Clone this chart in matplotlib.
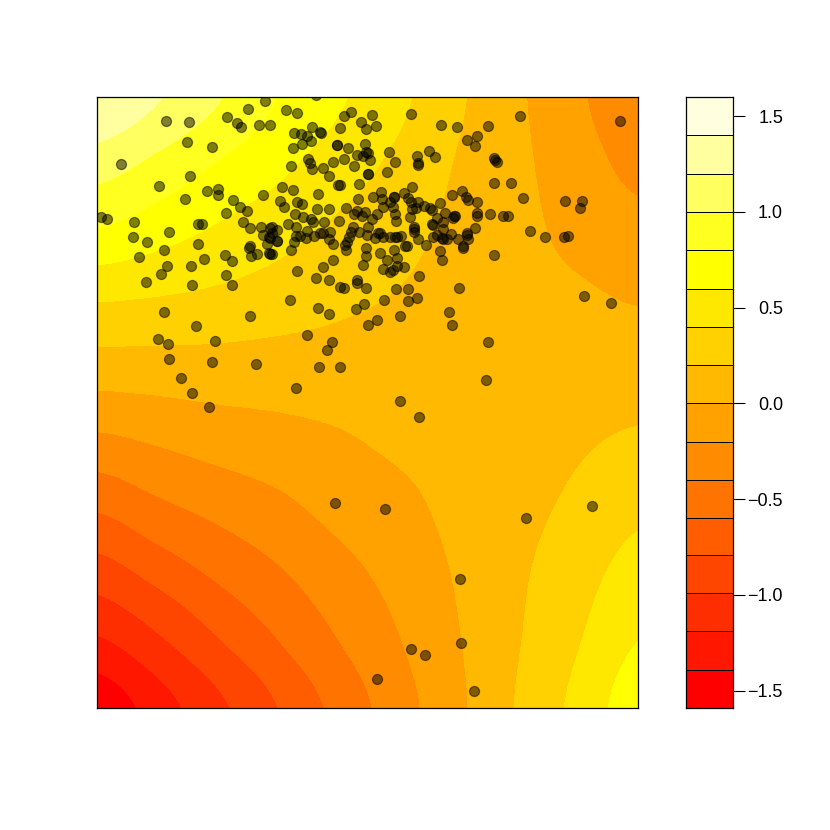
import numpy as np
import matplotlib
matplotlib.use("Agg")
import matplotlib.pyplot as plt
from matplotlib.colors import ListedColormap, BoundaryNorm

plt.rcParams['font.family'] = ['Liberation Sans', 'DejaVu Sans']

# Colour scale
levels = [-1.59, -1.39, -1.19, -0.99, -0.79, -0.60, -0.40, -0.20, 0.0,
          0.20, 0.40, 0.60, 0.80, 1.00, 1.20, 1.40, 1.60]
palette = ['#FF0000', '#FF1700', '#FF2E00', '#FF4600', '#FF5D00', '#FF7400',
           '#FF8B00', '#FFA200', '#FFB900', '#FFD100', '#FFE800', '#FFFF00',
           '#FFFF20', '#FFFF60', '#FFFF9F', '#FFFFDF']
bar_ticks = [-1.5, -1.0, -0.5, 0.0, 0.5, 1.0, 1.5]
bar_labels = ['\u22121.5', '\u22121.0', '\u22120.5', '0.0', '0.5', '1.0', '1.5']

# Surface at a coarse grid
grid_x = [97, 157, 217, 277, 337, 397, 457, 517, 577, 638]
grid_y = [97, 165, 233, 301, 369, 437, 505, 573, 641, 708]
surface = [
    [1.40, 1.22, 1.02, 0.80, 0.63, 0.45, 0.23, 0.03, -0.17, -0.36],
    [1.09, 0.95, 0.79, 0.65, 0.50, 0.355, 0.185, 0.04, -0.11, -0.26],
    [0.78, 0.68, 0.57, 0.47, 0.36, 0.27, 0.15, 0.05, -0.05, -0.13],
    [0.41, 0.385, 0.35, 0.30, 0.24, 0.185, 0.11, 0.06, 0.03, -0.01],
    [0.105, 0.11, 0.115, 0.11, 0.11, 0.10, 0.09, 0.08, 0.09, 0.10],
    [-0.22, -0.16, -0.10, -0.06, -0.015, 0.04, 0.08, 0.11, 0.17, 0.22],
    [-0.56, -0.43, -0.33, -0.24, -0.13, -0.05, 0.055, 0.14, 0.24, 0.35],
    [-0.88, -0.72, -0.56, -0.42, -0.27, -0.13, 0.02, 0.17, 0.32, 0.48],
    [-1.21, -1.02, -0.80, -0.60, -0.40, -0.21, -0.01, 0.19, 0.39, 0.60],
    [-1.54, -1.29, -1.04, -0.79, -0.54, -0.29, -0.04, 0.22, 0.46, 0.72],
]

# Sample locations
pts_x = [265, 248, 166, 189, 227, 237, 241, 259, 270, 187, 212, 121, 190, 159, 207, 218, 218, 185, 263, 233, 240,
         247, 226, 101, 107, 134, 198, 202, 133, 169, 147, 198, 243, 250, 261, 270, 263, 269, 272, 277, 267, 250, 249,
         251, 257, 270, 164, 139, 225, 232, 204, 167, 191, 161, 226, 146, 192, 232,
         286, 297, 294, 301, 307, 312, 320, 321, 311, 302, 293, 344, 351, 340, 361, 372, 366, 376, 411, 441, 337, 337,
         348, 365, 357, 366, 368, 363, 370, 389, 395, 417, 418, 418, 429, 435, 308, 310, 312, 333, 344, 354, 323, 329,
         291, 368, 368, 387, 282, 293, 338, 340, 359, 318, 412, 404, 381, 394, 394, 373, 316,
         280, 284, 297, 302, 317, 329, 295, 303, 311, 313, 324, 339, 346, 358, 382, 383, 390, 357, 354, 365, 362, 377,
         372, 368, 288, 296, 277, 272, 277, 270, 269, 272, 296, 300, 294, 291, 306, 307, 314, 320, 323, 330, 329, 333,
         353, 351, 349, 347, 345, 346, 359, 367, 375, 378, 383, 390, 366, 366, 380, 387, 363, 383, 390, 333, 323, 297,
         316, 329, 357,
         462, 452, 466, 468, 477, 408, 411, 418, 393, 412, 416, 424, 430, 432, 440, 437, 445, 454, 453, 477, 477, 490,
         395, 396, 410, 432, 433, 443, 443, 475, 414, 414, 414, 380, 395, 397, 401, 418, 426, 433, 437, 442, 443, 447,
         451, 458, 467, 467, 468, 463, 463, 440, 442, 405, 407, 394, 397, 397, 404, 393, 494, 419,
         457, 488, 477, 467, 475, 520, 620, 494, 495, 497, 494, 511, 523, 565, 582, 580, 455, 503, 508, 530, 545, 564,
         568, 459, 584, 611, 449,
         340, 344, 357, 366, 396, 408, 408, 417, 290, 318, 329, 364, 356, 384, 400, 377, 368, 452, 488, 486, 307, 332,
         327, 319, 340, 296, 400, 419,
         164, 196, 250, 158, 168, 215, 169, 212, 256, 181, 192, 209,
         335, 385, 377, 526, 592, 460, 411, 425, 461, 474]
pts_y = [101, 109, 121, 122, 117, 123, 127, 125, 125, 142, 147, 164, 176, 186, 191, 189, 195, 199, 195, 200, 207,
         211, 213, 217, 219, 222, 224, 224, 237, 232, 242, 244, 222, 228, 227, 228, 235, 237, 233, 241, 244, 246, 248,
         256, 254, 254, 250, 257, 255, 261, 259, 266, 266, 274, 275, 282, 285, 285,
         110, 113, 133, 134, 136, 127, 132, 133, 141, 144, 148, 116, 112, 128, 122, 115, 129, 126, 114, 125, 145, 145,
         148, 144, 155, 152, 153, 156, 160, 152, 162, 156, 163, 165, 151, 157, 159, 163, 169, 162, 159, 166, 168, 176,
         166, 174, 174, 172, 187, 190, 185, 185, 184, 194, 187, 193, 192, 197, 197, 197, 95,
         201, 207, 202, 204, 209, 209, 214, 217, 219, 222, 222, 221, 208, 199, 199, 207, 202, 211, 214, 212, 216, 214,
         219, 227, 224, 227, 230, 227, 241, 238, 253, 254, 236, 236, 242, 250, 238, 231, 236, 233, 233, 232, 239, 244,
         227, 232, 237, 242, 245, 250, 232, 235, 238, 233, 237, 237, 248, 256, 253, 260, 265, 269, 272, 260, 267, 271,
         278, 280, 280,
         191, 195, 197, 200, 202, 198, 202, 202, 207, 209, 208, 206, 208, 210, 203, 218, 213, 216, 218, 213, 216, 214,
         214, 221, 217, 224, 225, 222, 229, 228, 227, 229, 232, 233, 237, 237, 236, 239, 245, 237, 235, 238, 239, 239,
         234, 239, 233, 235, 239, 246, 248, 251, 260, 246, 246, 250, 258, 266, 267, 270, 255, 276,
         127, 126, 136, 140, 146, 116, 121, 158, 160, 162, 183, 183, 198, 201, 201, 208, 216, 216, 216, 231, 237, 237,
         236, 288, 296, 303, 312,
         287, 288, 283, 288, 289, 289, 301, 298, 300, 308, 314, 304, 309, 300, 316, 320, 325, 325, 342, 380, 335, 342,
         350, 367, 367, 388, 401, 417,
         312, 326, 316, 339, 344, 341, 359, 362, 364, 378, 393, 407,
         503, 509, 679, 518, 506, 579, 649, 655, 643, 691]

fig = plt.figure(figsize=(8.3, 8.3), dpi=100)
W = H = 830.0


def box(l, t, r, b):
    return [l / W, 1 - b / H, (r - l) / W, (b - t) / H]


cmap = ListedColormap(palette)
norm = BoundaryNorm(levels, cmap.N, clip=True)

ax = fig.add_axes(box(97, 97, 638, 708))
dx = (grid_x[1] - grid_x[0]) / 2
dy = (grid_y[1] - grid_y[0]) / 2
ax.imshow(np.array(surface), cmap=cmap, norm=norm, aspect='auto', origin='upper',
          extent=(grid_x[0] - dx, grid_x[-1] + dx, grid_y[-1] + dy, grid_y[0] - dy),
          interpolation='catrom', interpolation_stage='data')
ax.scatter(pts_x, pts_y, s=52, facecolor=(0, 0, 0, 0.5), edgecolor=(0, 0, 0, 0.5), linewidth=0.9, zorder=3)
ax.set_xlim(grid_x[0], grid_x[-1])
ax.set_ylim(grid_y[-1], grid_y[0])
ax.set_xticks([])
ax.set_yticks([])
for s in ax.spines.values():
    s.set_linewidth(0.9)

cax = fig.add_axes(box(686, 97, 733, 708))
mids = [[(a + b) / 2] for a, b in zip(levels[:-1], levels[1:])]
cax.pcolormesh([0, 1], levels, mids, cmap=cmap, norm=norm, edgecolors='black', linewidth=0.5)
cax.set_xlim(0, 1)
cax.set_ylim(levels[0], levels[-1])
cax.set_xticks([])
cax.yaxis.tick_right()
cax.set_yticks(bar_ticks)
cax.set_yticklabels(bar_labels, ha='right', fontsize=13.0)
cax.tick_params(axis='y', length=8.6, width=0.8, pad=27.4)
for s in cax.spines.values():
    s.set_linewidth(0.9)

fig.savefig('out.png', dpi=100)
